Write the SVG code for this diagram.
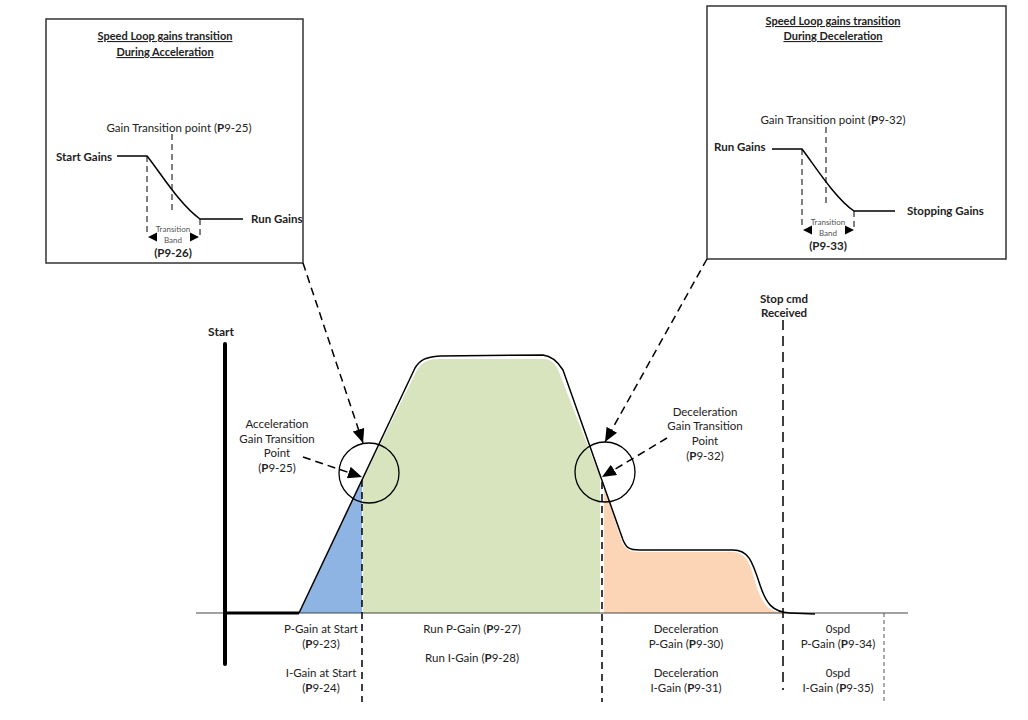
<svg xmlns="http://www.w3.org/2000/svg" width="1028" height="720" viewBox="0 0 1028 720">
<style>
text{font-family:Lato,"Open Sans","Liberation Sans",sans-serif;font-size:11.5px;fill:#222;}
.c{text-anchor:middle;}
.b{font-weight:bold;}
.t{font-weight:bold;text-decoration:underline;text-anchor:middle;font-size:11px;}
.sm{font-size:8px;fill:#555;text-anchor:middle;}
.box{fill:#fff;stroke:#333;stroke-width:1.5;}
.ln{fill:none;stroke:#000;stroke-width:1.5;}
.dsh{fill:none;stroke:#000;stroke-width:1;stroke-dasharray:6,4;}
.dl{fill:none;stroke:#000;stroke-width:1.5;stroke-dasharray:8,5;}
.tri{fill:#000;}
</style>
<defs>
<marker id="ah" markerUnits="userSpaceOnUse" markerWidth="14" markerHeight="12" viewBox="0 0 14 12" refX="14" refY="6" orient="auto">
<path d="M0,0 L14,6 L0,12 Z" fill="#000"/>
</marker>
</defs>
<rect width="1028" height="720" fill="#fff"/>

<g id="accel-box">
<rect class="box" x="46" y="19" width="257" height="244"/>
<text class="t" x="165" y="40">Speed Loop gains transition</text>
<text class="t" x="165" y="56">During Acceleration</text>
<text class="c" x="179" y="132">Gain Transition point (<tspan class="b">P</tspan>9-25)</text>
<text class="b" x="56" y="161">Start Gains</text>
<path class="ln" d="M117,156 L147,156 C160,172 180,205 200,219 L243,219"/>
<text class="b" x="251" y="223">Run Gains</text>
<path class="dsh" d="M147,156 V232 M172,134 V213 M200,219 V236"/>
<path class="tri" d="M148,237 L157,232.5 L157,241.5 Z M199,237 L190,232.5 L190,241.5 Z"/>
<text class="sm" x="173" y="232">Transition</text>
<text class="sm" x="173" y="243">Band</text>
<text class="c b" x="173" y="257">(P9-26)</text>
</g>

<g id="decel-box">
<rect class="box" x="707" y="6" width="299" height="253"/>
<text class="t" x="833" y="25">Speed Loop gains transition</text>
<text class="t" x="833" y="40">During Deceleration</text>
<text class="c" x="833" y="124">Gain Transition point (<tspan class="b">P</tspan>9-32)</text>
<text class="b" x="714" y="151">Run Gains</text>
<path class="ln" d="M772,149 L802,149 C815,166 835,198 854,211 L895,211"/>
<text class="b" x="907" y="215">Stopping Gains</text>
<path class="dsh" d="M802,149 V226 M826,127 V205 M854,211 V230"/>
<path class="tri" d="M803,230 L812,225.5 L812,234.5 Z M854,230 L845,225.5 L845,234.5 Z"/>
<text class="sm" x="828" y="225">Transition</text>
<text class="sm" x="828" y="236">Band</text>
<text class="c b" x="828" y="250">(P9-33)</text>
</g>

<g id="regions">
<path d="M299,613 L362,480 L362,613 Z" fill="#8EB4E3"/>
<path d="M363,479 L417,370 C422,362 428,359 440,359 L545,359 C552,360 556,364 559,372 L600,477 L600,613 L363,613 Z" fill="#D7E4BD"/>
<path d="M604,487 L622,542 C626,550 630,552 640,552 L733,552 C746,553 750,562 756,585 C762,603 768,611 781,613 L604,613 Z" fill="#FBD5B5"/>
</g>

<g id="axes">
<line x1="196" y1="613" x2="908" y2="613" stroke="#444" stroke-width="1"/>
<line x1="225" y1="344" x2="225" y2="664" stroke="#000" stroke-width="4" stroke-linecap="round"/>
<text class="b" x="221" y="336" style="text-anchor:middle;font-size:12px">Start</text>
</g>

<g id="profile">
<path d="M225,613 L299,613" stroke="#000" stroke-width="3" fill="none"/>
<path class="ln" d="M299,613 L415,368 C420,360 425,357 440,356 L543,355 C552,356 558,362 563,370 L623,540 C626,547 628,550 640,550 L733,550 C748,550 752,560 760,585 C766,603 772,612 790,613 L815,614"/>
</g>

<g id="markers">
<line class="dl" x1="362" y1="480" x2="362" y2="702" style="stroke-dasharray:7,5"/>
<line class="dl" x1="602" y1="482" x2="602" y2="702" style="stroke-dasharray:7,5"/>
<line class="dl" x1="783" y1="320" x2="783" y2="690" style="stroke-dasharray:10,6"/>
<line x1="884" y1="613" x2="884" y2="702" stroke="#555" stroke-width="1" stroke-dasharray="4,3"/>
<circle cx="369" cy="473" r="30" fill="none" stroke="#000" stroke-width="1.3"/>
<circle cx="605" cy="472" r="30" fill="none" stroke="#000" stroke-width="1.3"/>
<text class="c b" x="784" y="303">Stop cmd</text>
<text class="c b" x="784" y="317">Received</text>
</g>

<g id="connectors">
<line class="dl" x1="303" y1="263" x2="363" y2="443" marker-end="url(#ah)"/>
<line class="dl" x1="303" y1="457" x2="362" y2="477" marker-end="url(#ah)"/>
<line class="dl" x1="707" y1="259" x2="605" y2="442" marker-end="url(#ah)"/>
<line class="dl" x1="667" y1="438" x2="602" y2="477" marker-end="url(#ah)"/>
</g>

<g id="labels">
<text class="c" x="277" y="428">Acceleration</text>
<text class="c" x="277" y="443">Gain Transition</text>
<text class="c" x="277" y="457">Point</text>
<text class="c" x="277" y="472">(<tspan class="b">P</tspan>9-25)</text>
<text class="c" x="705" y="416">Deceleration</text>
<text class="c" x="705" y="430">Gain Transition</text>
<text class="c" x="705" y="445">Point</text>
<text class="c" x="705" y="460">(<tspan class="b">P</tspan>9-32)</text>

<text class="c" x="321" y="633">P-Gain at Start</text>
<text class="c" x="321" y="648">(<tspan class="b">P</tspan>9-23)</text>
<text class="c" x="321" y="677">I-Gain at Start</text>
<text class="c" x="321" y="692">(<tspan class="b">P</tspan>9-24)</text>
<text class="c" x="472" y="633">Run P-Gain (<tspan class="b">P</tspan>9-27)</text>
<text class="c" x="472" y="662">Run I-Gain (<tspan class="b">P</tspan>9-28)</text>
<text class="c" x="686" y="633">Deceleration</text>
<text class="c" x="686" y="648">P-Gain (<tspan class="b">P</tspan>9-30)</text>
<text class="c" x="686" y="677">Deceleration</text>
<text class="c" x="686" y="692">I-Gain (<tspan class="b">P</tspan>9-31)</text>
<text class="c" x="838" y="633">0spd</text>
<text class="c" x="838" y="648">P-Gain (<tspan class="b">P</tspan>9-34)</text>
<text class="c" x="838" y="677">0spd</text>
<text class="c" x="838" y="692">I-Gain (<tspan class="b">P</tspan>9-35)</text>
</g>
</svg>
